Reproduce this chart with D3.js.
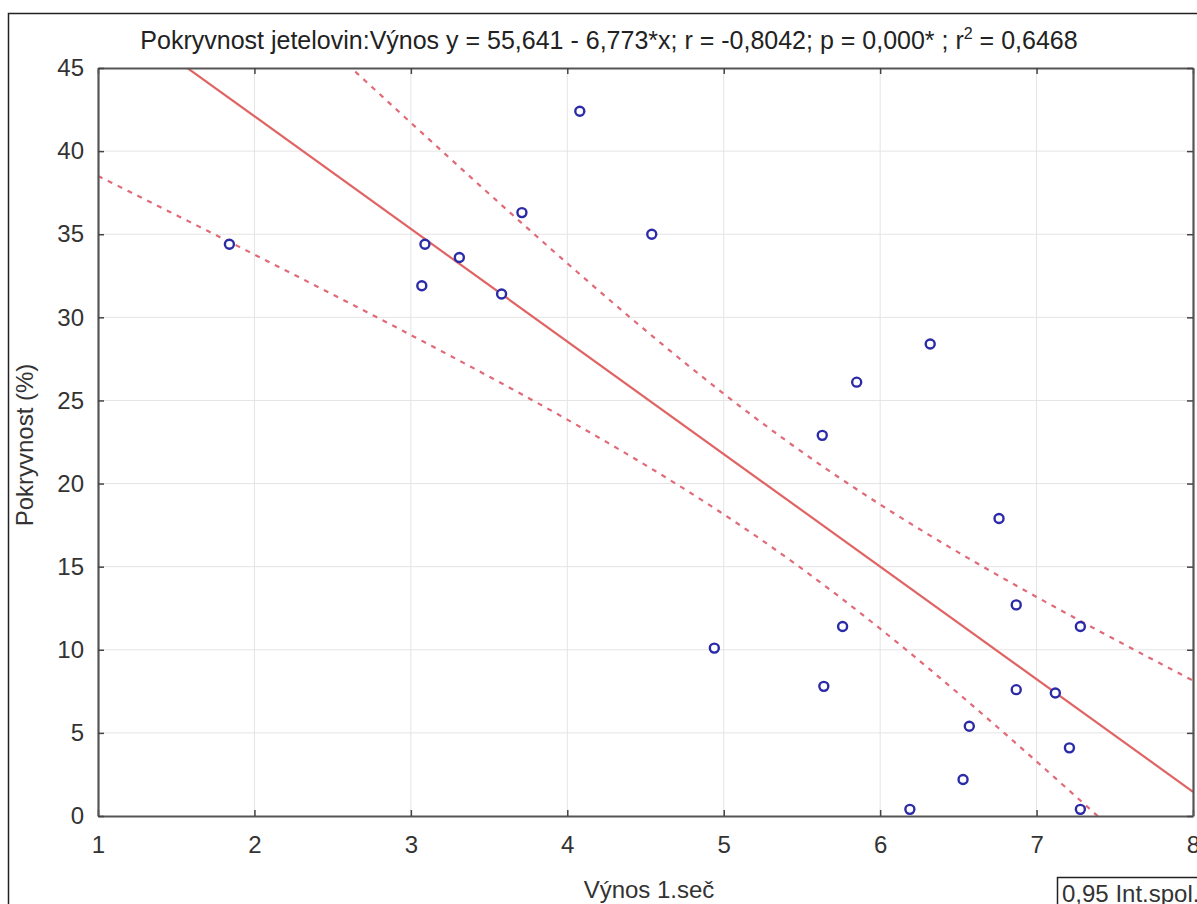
<!DOCTYPE html>
<html lang="cs">
<head>
<meta charset="UTF-8">
<title>Pokryvnost jetelovin</title>
<script src="https://d3js.org/d3.v7.min.js"></script>
<style>
  body { margin: 0; background: #fff; }
  svg { display: block; font-family: "Liberation Sans", Arial, sans-serif; }
</style>
</head>
<body>
<svg id="chart" width="1197" height="904"></svg>

<script>
// data
var vynos = [1.84, 3.09, 3.07, 3.31, 3.58, 3.71, 4.08, 4.54, 4.94, 5.63, 5.64, 5.76,
             5.85, 6.32, 6.19, 6.53, 6.57, 6.76, 6.87, 6.87, 7.12, 7.21, 7.28, 7.28];
var pokryvnost = [34.4, 34.4, 31.9, 33.6, 31.4, 36.3, 42.4, 35.0, 10.1, 22.9, 7.8, 11.4,
                  26.1, 28.4, 0.4, 2.2, 5.4, 17.9, 12.7, 7.6, 7.4, 4.1, 11.4, 0.4];

// regression as printed in the title
var intercept = 55.641, slope = -6.773;
var xTicks = [1, 2, 3, 4, 5, 6, 7, 8];
var yTicks = [0, 5, 10, 15, 20, 25, 30, 35, 40, 45];
var title = "Pokryvnost jetelovin:Výnos y = 55,641 - 6,773*x; r = -0,8042; p = 0,000* ; r";
var legendText = "0,95 Int.spol.";

var svg = d3.select("#chart");
var mLeft = 98, mRight = 1193, mTop = 68, mBottom = 816;

var x = d3.scaleLinear().domain([1, 8]).range([mLeft, mRight]);
var y = d3.scaleLinear().domain([0, 45]).range([mBottom, mTop]);

// outer frame
svg.append("rect")
  .attr("x", 8.5).attr("y", 13.5)
  .attr("width", 1300).attr("height", 1000)
  .attr("fill", "none").attr("stroke", "#222").attr("stroke-width", 1.5);

// grid
svg.append("g").selectAll("line").data(xTicks.slice(1, -1)).join("line")
  .attr("x1", d => x(d)).attr("x2", d => x(d))
  .attr("y1", mTop).attr("y2", mBottom)
  .attr("stroke", "#e4e4e4").attr("stroke-width", 1);
svg.append("g").selectAll("line").data(yTicks.slice(1, -1)).join("line")
  .attr("x1", mLeft).attr("x2", mRight)
  .attr("y1", d => y(d)).attr("y2", d => y(d))
  .attr("stroke", "#e4e4e4").attr("stroke-width", 1);

// confidence band from the data
var n = vynos.length;
var xm = d3.mean(vynos);
var sxx = d3.sum(vynos, v => (v - xm) * (v - xm));
var sse = d3.sum(vynos, (v, i) => Math.pow(pokryvnost[i] - (intercept + slope * v), 2));
var s = Math.sqrt(sse / (n - 2));
var t = 2.074; // t(0.975, 22)
function fit(v) { return intercept + slope * v; }
function half(v) { return t * s * Math.sqrt(1 / n + (v - xm) * (v - xm) / sxx); }

var xs = d3.range(1, 8.001, 0.02);

var plot = svg.append("g");
plot.append("clipPath").attr("id", "clip")
  .append("rect").attr("x", mLeft).attr("y", mTop)
  .attr("width", mRight - mLeft).attr("height", mBottom - mTop);

var line = d3.line().x(d => x(d[0])).y(d => y(d[1]));
var curves = plot.append("g").attr("clip-path", "url(#clip)");

curves.append("path")
  .datum(xs.map(v => [v, fit(v) + half(v)]))
  .attr("d", line).attr("fill", "none")
  .attr("stroke", "#e06a78").attr("stroke-width", 2.2).attr("stroke-dasharray", "5,6");
curves.append("path")
  .datum(xs.map(v => [v, fit(v) - half(v)]))
  .attr("d", line).attr("fill", "none")
  .attr("stroke", "#e06a78").attr("stroke-width", 2.2).attr("stroke-dasharray", "5,6");
curves.append("path")
  .datum([[1, fit(1)], [8, fit(8)]])
  .attr("d", line).attr("fill", "none")
  .attr("stroke", "#e06464").attr("stroke-width", 2.2);

// points
plot.append("g").selectAll("circle").data(vynos).join("circle")
  .attr("cx", d => x(d))
  .attr("cy", (d, i) => y(pokryvnost[i]))
  .attr("r", 4.5)
  .attr("fill", "#fff")
  .attr("stroke", "#2b2ba8").attr("stroke-width", 2.4);

// axes
function styleAxis(g) {
  g.select(".domain").attr("stroke", "#555").attr("stroke-width", 2.2);
  g.selectAll(".tick line").attr("stroke", "#444").attr("stroke-width", 1.5);
  g.selectAll("text").attr("font-size", 24).attr("fill", "#333")
    .attr("font-family", "Liberation Sans, Arial, sans-serif");
}

var fmt = d3.format("d");
svg.append("g").attr("transform", "translate(0," + mBottom + ")")
  .call(d3.axisBottom(x).tickValues(xTicks).tickFormat(fmt).tickSizeInner(-6).tickSizeOuter(0).tickPadding(20))
  .call(styleAxis);
svg.append("g").attr("transform", "translate(0," + mTop + ")")
  .call(d3.axisTop(x).tickValues(xTicks).tickSizeInner(-6).tickSizeOuter(0).tickFormat(""))
  .call(styleAxis);
svg.append("g").attr("transform", "translate(" + mLeft + ",0)")
  .call(d3.axisLeft(y).tickValues(yTicks).tickFormat(fmt).tickSizeInner(-6).tickSizeOuter(0).tickPadding(14))
  .call(styleAxis);
svg.append("g").attr("transform", "translate(" + mRight + ",0)")
  .call(d3.axisRight(y).tickValues(yTicks).tickSizeInner(-6).tickSizeOuter(0).tickFormat(""))
  .call(styleAxis);

// title
var tt = svg.append("text")
  .attr("x", 609).attr("y", 49)
  .attr("text-anchor", "middle")
  .attr("font-size", 25).attr("fill", "#222");
tt.append("tspan").text(title);
tt.append("tspan").attr("font-size", 16).attr("dy", -10).text("2");
tt.append("tspan").attr("dy", 10).text(" = 0,6468");

// axis titles
svg.append("text")
  .attr("x", 649).attr("y", 898)
  .attr("text-anchor", "middle")
  .attr("font-size", 24).attr("fill", "#333")
  .text("Výnos 1.seč");
svg.append("text")
  .attr("transform", "translate(33,445) rotate(-90)")
  .attr("text-anchor", "middle")
  .attr("font-size", 24).attr("fill", "#333")
  .text("Pokryvnost (%)");

// legend box (cut by the page edge)
svg.append("rect")
  .attr("x", 1057.5).attr("y", 877.5)
  .attr("width", 200).attr("height", 40)
  .attr("fill", "#fff").attr("stroke", "#222").attr("stroke-width", 1.5);
svg.append("text")
  .attr("x", 1062).attr("y", 902)
  .attr("font-size", 24).attr("fill", "#333")
  .text(legendText);
</script>
</body>
</html>
